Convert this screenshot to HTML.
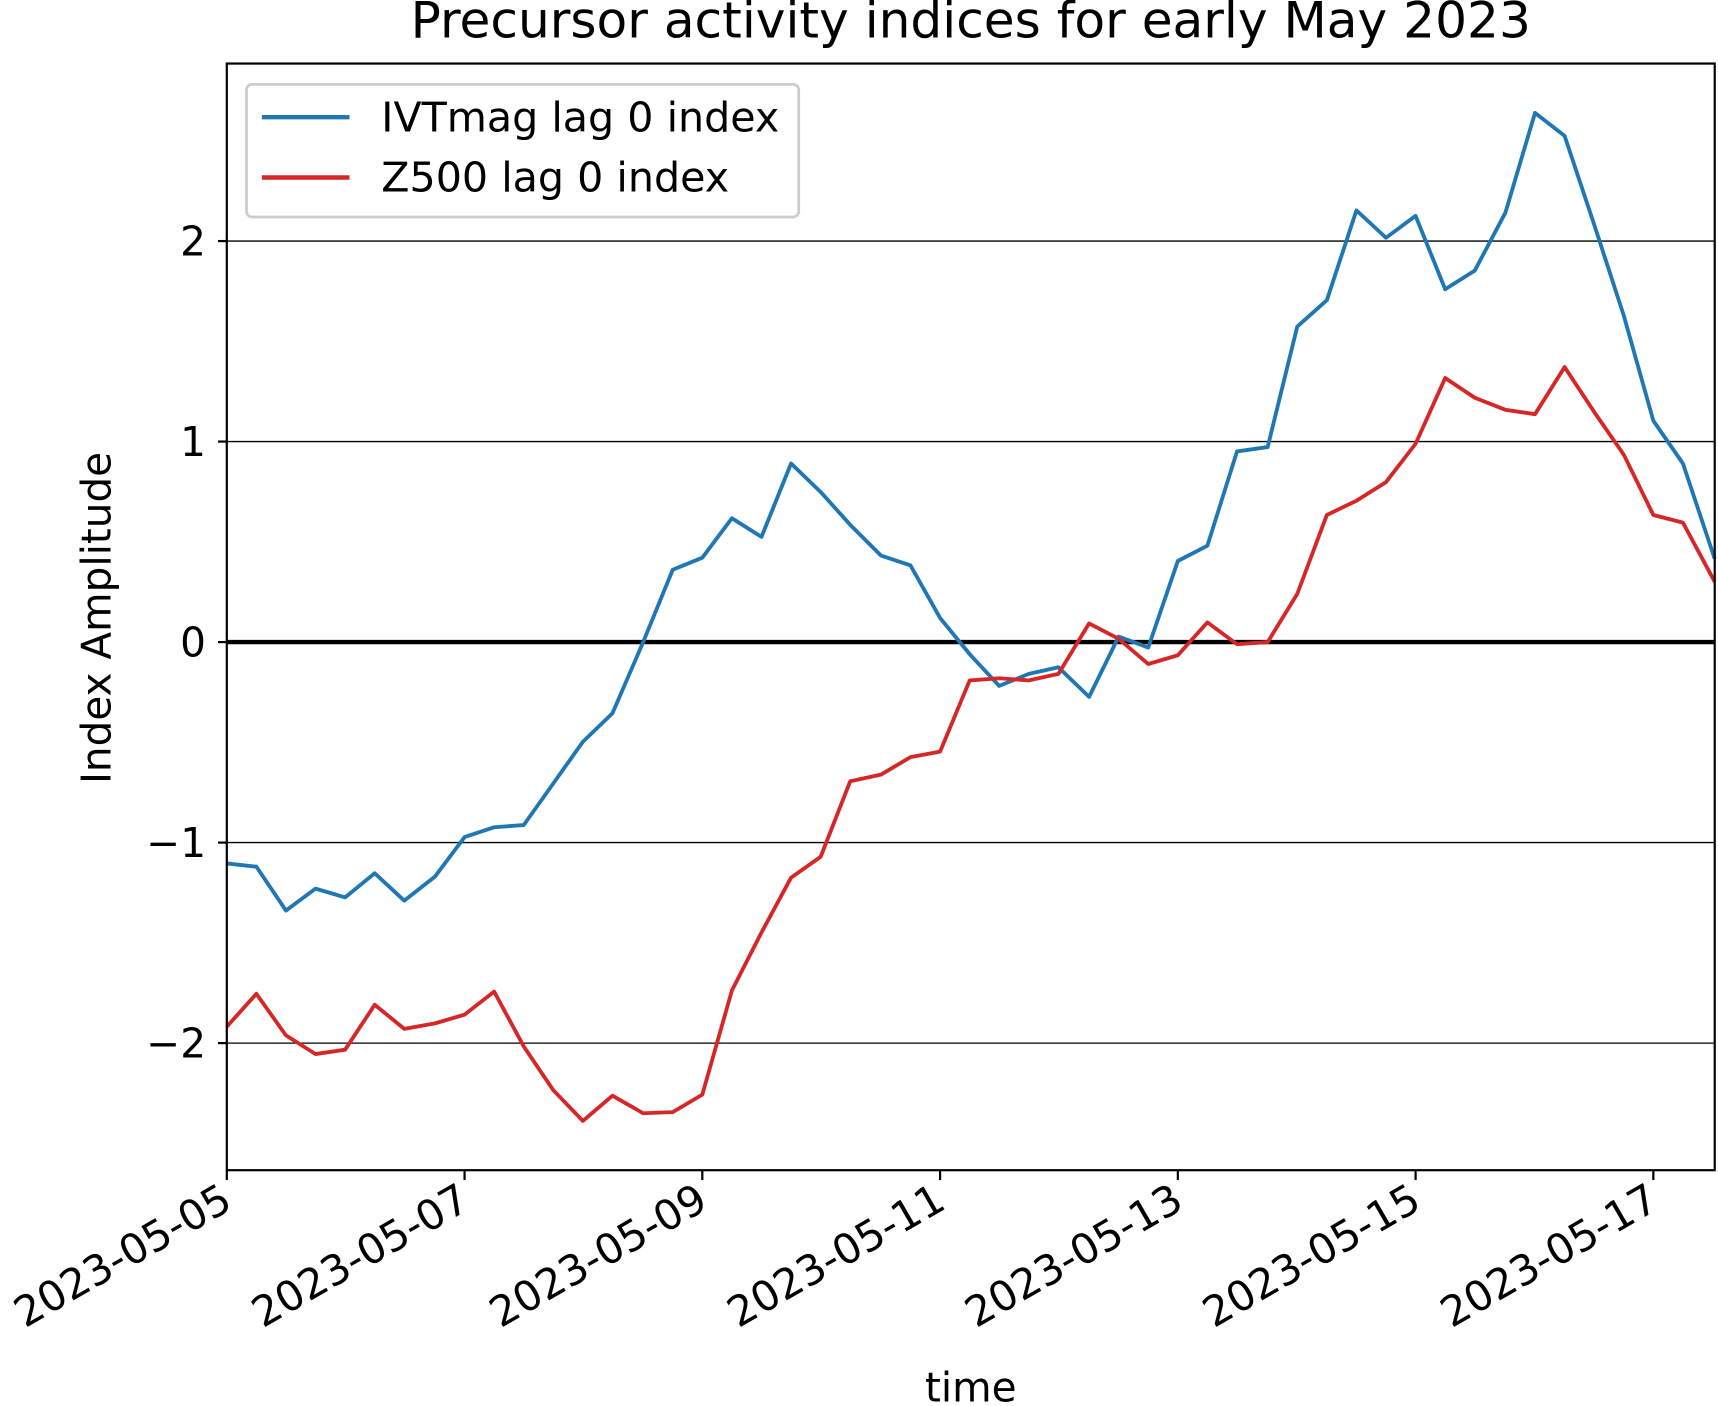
<!DOCTYPE html>
<html><head><meta charset="utf-8"><style>html,body{margin:0;padding:0;background:#fff}svg{display:block}</style></head>
<body>
<svg width="1718" height="1406" viewBox="0 0 1568 1283.2" preserveAspectRatio="none" xmlns="http://www.w3.org/2000/svg" font-family="DejaVu Sans, Liberation Sans, sans-serif">
<rect width="1568" height="1284" fill="#fff"/>
<g stroke="#000" stroke-width="1.2">
<line x1="207" y1="220" x2="1565" y2="220"/>
<line x1="207" y1="403" x2="1565" y2="403"/>
<line x1="207" y1="769" x2="1565" y2="769"/>
<line x1="207" y1="952" x2="1565" y2="952"/>
</g>
<line x1="207" y1="586" x2="1565" y2="586" stroke="#000" stroke-width="4"/>
<polyline fill="none" stroke="#1f77b4" stroke-width="3.5" stroke-linejoin="round" points="207,788 234,791 261,831 288,811 315,819 342,797 369,822 397,800 424,764 451,755 478,753 505,715 532,677 559,651 587,586 614,520 641,509 668,473 695,490 722,423 749,449 776,479 804,507 831,516 858,564 885,597 912,626 939,615 966,609 994,636 1021,581 1048,591 1075,512 1102,498 1129,412 1157,408 1184,298 1211,274 1238,192 1265,217 1292,197 1319,264 1346,247 1374,194 1401,103 1428,124 1455,205 1482,288 1509,384 1536,423 1565,510"/>
<polyline fill="none" stroke="#d62728" stroke-width="3.5" stroke-linejoin="round" points="207,937 234,907 261,945 288,962 315,958 342,917 369,939 397,934 424,926 451,905 478,955 505,995 532,1023 559,1000 587,1016 614,1015 641,999 668,904 695,851 722,801 749,782 776,713 804,707 831,691 858,686 885,621 912,619 939,621 966,615 994,569 1021,583 1048,606 1075,598 1102,568 1129,588 1157,586 1184,542 1211,470 1238,457 1265,440 1292,405 1319,345 1346,363 1374,374 1401,378 1428,335 1455,376 1482,415 1509,470 1536,477 1565,531"/>
<rect x="207" y="58" width="1358" height="1010" fill="none" stroke="#000" stroke-width="2"/>
<g stroke="#000" stroke-width="2">
<line x1="207" y1="220" x2="199" y2="220"/><line x1="207" y1="403" x2="199" y2="403"/><line x1="207" y1="586" x2="199" y2="586"/><line x1="207" y1="769" x2="199" y2="769"/><line x1="207" y1="952" x2="199" y2="952"/>
<line x1="207" y1="1068" x2="207" y2="1077"/><line x1="424" y1="1068" x2="424" y2="1077"/><line x1="641" y1="1068" x2="641" y2="1077"/><line x1="858" y1="1068" x2="858" y2="1077"/><line x1="1075" y1="1068" x2="1075" y2="1077"/><line x1="1292" y1="1068" x2="1292" y2="1077"/><line x1="1509" y1="1068" x2="1509" y2="1077"/>
</g>
<g font-size="37" text-anchor="end" fill="#000">
<text x="188" y="233">2</text><text x="188" y="416">1</text><text x="188" y="599">0</text><text x="188" y="782">−1</text><text x="188" y="965">−2</text>
</g>
<g font-size="38" text-anchor="end" fill="#000">
<text transform="translate(214,1102) rotate(-30)">2023-05-05</text>
<text transform="translate(431,1102) rotate(-30)">2023-05-07</text>
<text transform="translate(648,1102) rotate(-30)">2023-05-09</text>
<text transform="translate(865,1102) rotate(-30)">2023-05-11</text>
<text transform="translate(1082,1102) rotate(-30)">2023-05-13</text>
<text transform="translate(1299,1102) rotate(-30)">2023-05-15</text>
<text transform="translate(1516,1102) rotate(-30)">2023-05-17</text>
</g>
<text x="886" y="1279" font-size="37" text-anchor="middle">time</text>
<text transform="translate(101,564) rotate(-90)" font-size="37" text-anchor="middle">Index Amplitude</text>
<text x="886" y="34" font-size="45.8" text-anchor="middle">Precursor activity indices for early May 2023</text>
<rect x="225" y="77" width="504" height="121" rx="5" fill="#fff" stroke="#ccc" stroke-width="2.5"/>
<line x1="239" y1="107" x2="319" y2="107" stroke="#1f77b4" stroke-width="4"/>
<line x1="239" y1="162" x2="319" y2="162" stroke="#d62728" stroke-width="4"/>
<text x="348" y="120" font-size="37.6">IVTmag lag 0 index</text>
<text x="348" y="175" font-size="37.6">Z500 lag 0 index</text>
</svg>
</body></html>
